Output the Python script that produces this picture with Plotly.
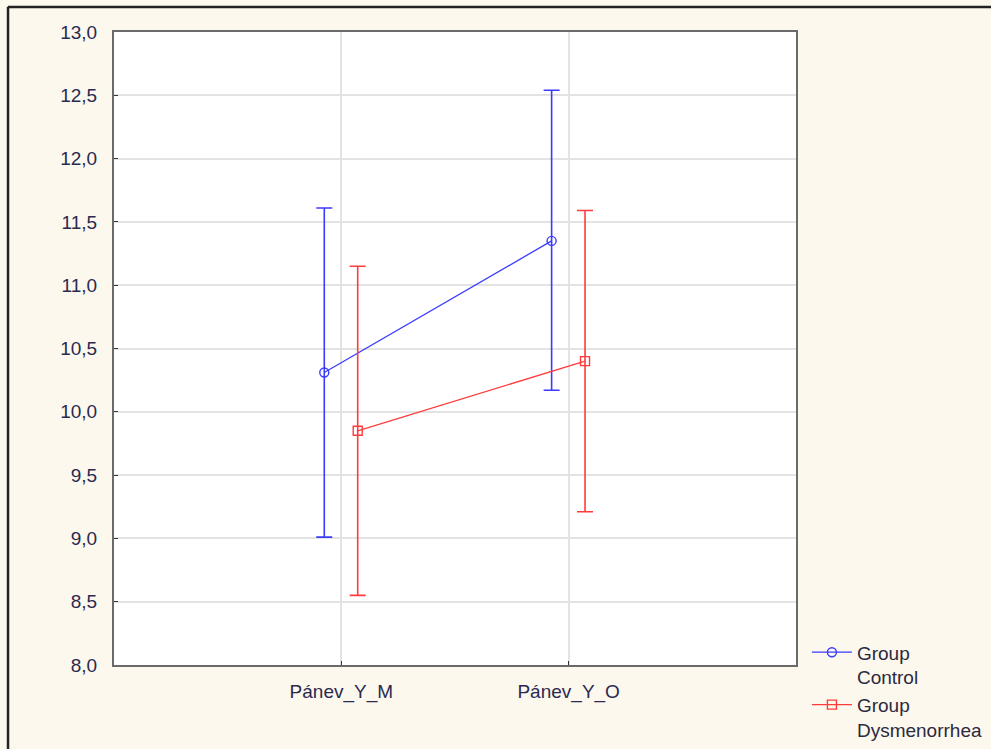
import plotly.graph_objects as go

categories = ["Pánev_Y_M", "Pánev_Y_O"]
groups = ["Group<br>Control", "Group<br>Dysmenorrhea"]
control_mean = [10.31, 11.35]
control_upper = [11.61, 12.54]
control_lower = [9.01, 10.17]
dys_mean = [9.85, 10.40]
dys_upper = [11.15, 11.59]
dys_lower = [8.55, 9.21]
y_ticks = [8.0, 8.5, 9.0, 9.5, 10.0, 10.5, 11.0, 11.5, 12.0, 12.5, 13.0]

offsets = [-0.075, 0.072]
colors = ["#3b3bff", "#ff3b3b"]
symbols = ["circle-open", "square-open"]

fig = go.Figure()
series = [(control_mean, control_upper, control_lower), (dys_mean, dys_upper, dys_lower)]
for i, (m, u, l) in enumerate(series):
    xs = [k + offsets[i] for k in range(len(categories))]
    fig.add_trace(go.Scatter(
        x=xs, y=m, mode="lines+markers", name=groups[i],
        line=dict(color=colors[i], width=1.3),
        marker=dict(symbol=symbols[i], size=9, color=colors[i], line=dict(width=1.4, color=colors[i])),
        error_y=dict(type="data", symmetric=False,
                     array=[a - b for a, b in zip(u, m)],
                     arrayminus=[b - c for b, c in zip(m, l)],
                     color=colors[i], thickness=1.6, width=8),
    ))

tick_font = dict(family="Liberation Sans, Arial, sans-serif", size=19, color="#2a2a50")
fig.update_layout(
    width=991, height=749,
    margin=dict(l=114, r=195, t=32, b=84, autoexpand=False),
    paper_bgcolor="#fdf8ee",
    plot_bgcolor="white",
    font=dict(family="Liberation Sans, Arial, sans-serif", size=19, color="#2a2a50"),
    showlegend=True,
    legend=dict(x=1.016, y=0.05, xanchor="left", yanchor="top", valign="top",
                bgcolor="rgba(0,0,0,0)", font=dict(size=19, color="#2a2a40"),
                tracegroupgap=0, itemwidth=40),
    xaxis=dict(range=[-1, 2], tickmode="array", tickvals=list(range(len(categories))),
               ticktext=categories, showgrid=True, gridcolor="#e3e3e3", gridwidth=1.5,
               showline=True, linecolor="#6a6a6a", linewidth=2, mirror=True,
               ticks="inside", ticklen=4, tickcolor="#333", zeroline=False,
               ticklabelstandoff=8, tickfont=tick_font),
    yaxis=dict(range=[8, 13], tickmode="array", tickvals=y_ticks,
               ticktext=[f"{v:.1f}".replace(".", ",") for v in y_ticks],
               showgrid=True, gridcolor="#e3e3e3", gridwidth=1.5,
               showline=True, linecolor="#6a6a6a", linewidth=2, mirror=True,
               ticks="inside", ticklen=4, tickcolor="#333", zeroline=False,
               ticklabelstandoff=11, tickfont=tick_font),
)

# figure frame lines (left and top), in paper coordinates
fig.add_shape(type="line", xref="paper", yref="paper", x0=-0.1554, x1=-0.1554, y0=1.04, y1=-0.14,
              line=dict(color="#222", width=2.5))
fig.add_shape(type="line", xref="paper", yref="paper", x0=-0.1554, x1=1.3, y0=1.0395, y1=1.0395,
              line=dict(color="#222", width=2.5))

fig.write_html("out.html")
